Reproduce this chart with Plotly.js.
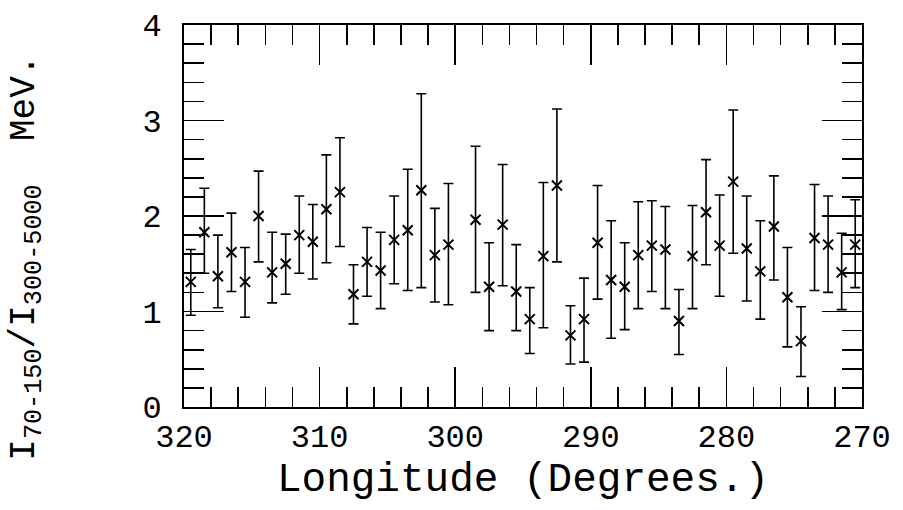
<!DOCTYPE html>
<html>
<head>
<meta charset="utf-8">
<script src="https://cdn.plot.ly/plotly-3.0.1.min.js"></script>
<style>html,body{margin:0;padding:0;background:#fff;}#chart{width:903px;height:510px;}</style>
</head>
<body>
<div id="chart"></div>
<script>
// Longitude bin centres (degrees)
const longitude = [319.5,318.5,317.5,316.5,315.5,314.5,313.5,312.5,311.5,310.5,
  309.5,308.5,307.5,306.5,305.5,304.5,303.5,302.5,301.5,300.5,
  298.5,297.5,296.5,295.5,294.5,293.5,292.5,291.5,290.5,289.5,
  288.5,287.5,286.5,285.5,284.5,283.5,282.5,281.5,280.5,279.5,
  278.5,277.5,276.5,275.5,274.5,273.5,272.5,271.5,270.5];
// Intensity ratio I(70-150)/I(300-5000)
const ratio = [1.31,1.83,1.37,1.62,1.31,2.00,1.41,1.50,1.80,1.73,
  2.07,2.25,1.18,1.52,1.43,1.75,1.85,2.27,1.59,1.70,
  1.96,1.26,1.91,1.21,0.92,1.58,2.32,0.75,0.92,1.72,
  1.33,1.26,1.59,1.69,1.65,0.90,1.58,2.04,1.69,2.36,
  1.66,1.42,1.89,1.15,0.69,1.77,1.70,1.41,1.70];
// Upper ends of error bars
const upper = [1.65,2.29,1.80,2.03,1.67,2.47,1.83,1.81,2.21,2.12,
  2.64,2.82,1.49,1.88,1.83,2.21,2.49,3.28,2.08,2.34,
  2.73,1.72,2.54,1.70,1.25,2.35,3.12,1.06,1.35,2.32,
  1.95,1.72,2.15,2.16,2.10,1.23,2.11,2.59,2.22,3.11,
  2.21,1.95,2.42,1.67,1.05,2.33,2.21,1.82,2.17];
// Lower ends of error bars
const lower = [0.96,1.40,1.04,1.21,0.94,1.52,1.09,1.18,1.40,1.34,
  1.51,1.68,0.87,1.16,1.03,1.29,1.22,1.25,1.10,1.07,
  1.20,0.80,1.27,0.80,0.56,0.83,1.52,0.45,0.47,1.13,
  0.72,0.81,1.03,1.21,1.03,0.55,1.03,1.49,1.16,1.61,
  1.11,0.92,1.33,0.63,0.32,1.22,1.20,1.02,1.25];
// Tick labels
const xTicks = [320,310,300,290,280,270];
const yTicks = [0,1,2,3,4];

const errPlus = upper.map((u,i)=>u-ratio[i]);
const errMinus = lower.map((l,i)=>ratio[i]-l);

const FONT = "Liberation Mono, DejaVu Sans Mono, monospace";

const trace = {
  x: longitude, y: ratio, type: 'scatter', mode: 'markers',
  marker: {symbol: 'x-thin', size: 10, color: '#000', line: {width: 2, color: '#000'}},
  error_y: {type: 'data', symmetric: false, array: errPlus, arrayminus: errMinus,
            color: '#000', thickness: 1.6, width: 5},
  showlegend: false, hoverinfo: 'x+y'
};

const layout = {
  width: 903, height: 510,
  margin: {l: 184, r: 41, t: 25, b: 103},
  paper_bgcolor: '#fff', plot_bgcolor: '#fff',
  font: {family: FONT, color: '#000', size: 30},
  xaxis: {
    range: [320, 270], tickvals: xTicks, ticktext: xTicks.map(String),
    ticks: 'inside', ticklen: 40, tickwidth: 1.6, tickcolor: '#000',
    minor: {dtick: 2, tick0: 270, ticks: 'inside', ticklen: 20, tickwidth: 1.6, tickcolor: '#000', showgrid: false},
    showline: true, linecolor: '#000', linewidth: 2, mirror: 'ticks',
    showgrid: false, zeroline: false,
    tickfont: {family: FONT, size: 32, color: '#000'},
    title: {text: 'Longitude (Degrees.)', font: {family: FONT, size: 41, color: '#000'}, standoff: 2}
  },
  yaxis: {
    range: [0, 4], tickvals: yTicks, ticktext: yTicks.map(String),
    ticks: 'inside', ticklen: 40, tickwidth: 1.6, tickcolor: '#000',
    minor: {dtick: 0.2, tick0: 0, ticks: 'inside', ticklen: 20, tickwidth: 1.6, tickcolor: '#000', showgrid: false},
    showline: true, linecolor: '#000', linewidth: 2, mirror: 'ticks',
    showgrid: false, zeroline: false, ticklabelstandoff: 14,
    tickfont: {family: FONT, size: 32, color: '#000'}
  },
  annotations: [{
    text: 'I<sub>70-150</sub>/I<sub>300-5000</sub>  MeV.',
    xref: 'paper', yref: 'paper', x: -0.232, y: 0.39,
    xanchor: 'center', yanchor: 'middle', textangle: -90, showarrow: false,
    font: {family: FONT, size: 36, color: '#000'}
  }]
};

Plotly.newPlot('chart', [trace], layout, {staticPlot: true});
</script>
</body>
</html>
